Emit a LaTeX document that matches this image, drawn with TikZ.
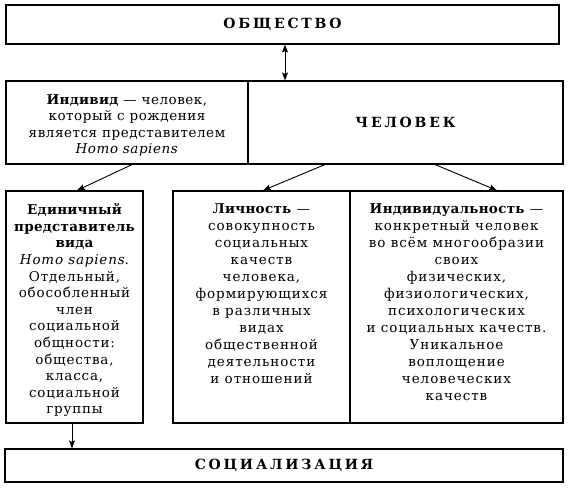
\documentclass[tikz,border=0pt]{standalone}
\usepackage{fontspec}
\setmainfont{DejaVu Serif}
\usetikzlibrary{arrows.meta,calc}
\newcommand{\hb}[1]{{\bfseries\addfontfeature{LetterSpace=2}#1}}
\begin{document}
\begin{tikzpicture}[x=1pt,y=-1pt,
  box/.style={draw, line width=1.1pt, inner sep=0pt, rectangle},
  txt/.style={align=center, inner sep=0pt, font=\fontsize{13.5}{17}\selectfont\addfontfeature{LetterSpace=7}},
  titletxt/.style={font=\fontsize{14}{17}\selectfont\bfseries\addfontfeature{LetterSpace=20}},
  arr/.style={line width=0.9pt, -{Stealth[length=8pt,width=6pt,inset=1.5pt]}},
  dblarr/.style={line width=0.9pt, {Stealth[length=8pt,width=6pt,inset=1.5pt]}-{Stealth[length=8pt,width=6pt,inset=1.5pt]}},
]
\fill[white] (0,0) rectangle (570,489);
\useasboundingbox (0,0) rectangle (570,489);

% boxes
\node[box, titletxt, minimum width=553pt, minimum height=39pt] (obsh) at (282.5,24.5) {ОБЩЕСТВО};
\node[box, minimum width=242pt, minimum height=83pt] (individ) at (127,122.5) {};
\node[box, titletxt, minimum width=315pt, minimum height=83pt] (chel) at (405.5,122.5) {ЧЕЛОВЕК};
\node[box, minimum width=137pt, minimum height=232pt] (edin) at (74.5,307) {};
\node[box, minimum width=177pt, minimum height=232pt] (lich) at (261.5,307) {};
\node[box, minimum width=213pt, minimum height=232pt] (indiv) at (456.5,307) {};
\node[box, titletxt, minimum width=558pt, minimum height=33pt] (soc) at (284,465.5) {СОЦИАЛИЗАЦИЯ};

% texts
\node[txt, font=\fontsize{13.5}{16.4}\selectfont\addfontfeature{LetterSpace=4}] (individtxt) at ($(individ.center)+(0,3)$)
  {\hb{Индивид} — человек,\\который с рождения\\является представителем\\\textit{Homo sapiens}};
\node[txt, anchor=north, font=\fontsize{13.5}{16.6}\selectfont\addfontfeature{LetterSpace=6}] (edintxt) at ($(edin.north)+(0,13)$)
  {\hb{Единичный}\\\hb{представитель}\\\hb{вида}\\\textit{Homo sapiens}.\\Отдельный,\\обособленный\\член\\социальной\\общности:\\общества,\\класса,\\социальной\\группы};
\node[txt, anchor=north] (lichtxt) at ($(lich.north)+(0,13)$)
  {\hb{Личность} —\\совокупность\\социальных\\качеств\\человека,\\формирующихся\\в различных\\видах\\общественной\\деятельности\\и отношений};
\node[txt, anchor=north] (indivtxt) at ($(indiv.north)+(0,13)$)
  {\hb{Индивидуальность} —\\конкретный человек\\во всём многообразии\\своих\\физических,\\физиологических,\\психологических\\и социальных качеств.\\Уникальное\\воплощение\\человеческих\\качеств};

% connectors
\draw[dblarr] (obsh.south -| 285,0) -- (chel.north -| 285,0);
\draw[arr] (individ.south -| 132,0) -- (edin.north -| 77,0);
\draw[arr] (chel.south -| 325,0) -- (lich.north -| 263,0);
\draw[arr] (chel.south -| 435,0) -- (indiv.north -| 497,0);
\draw[arr] (edin.south -| 72,0) -- (soc.north -| 72,0);
\end{tikzpicture}
\end{document}
